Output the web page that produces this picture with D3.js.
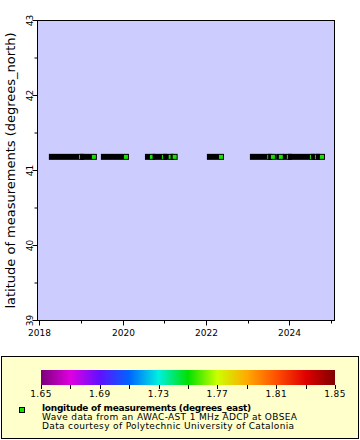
<!DOCTYPE html>
<html><head><meta charset="utf-8">
<script src="https://cdn.jsdelivr.net/npm/d3@7"></script>
<style>body{margin:0;background:#fff}svg{display:block;font-family:"DejaVu Sans",sans-serif}</style>
</head><body><svg id="c" width="360" height="440"></svg>
<script>
// Data: continuous measurement runs (start / end dates), station position
const runStart = ["2018-04-21","2019-01-19","2019-07-21","2020-08-10","2020-10-16","2021-01-15","2021-03-23","2022-02-04","2023-02-16","2023-07-26","2023-10-04","2023-12-02","2024-01-15","2024-08-04","2024-09-16"];
const runEnd   = ["2019-01-01","2019-04-24","2020-01-30","2020-09-14","2020-12-28","2021-02-25","2021-04-01","2022-05-12","2023-07-09","2023-08-10","2023-10-19","2023-12-28","2024-07-17","2024-08-30","2024-10-13"];
const latitude = 41.182;
const longitude = 1.752;
const xTickYears = [2018, 2020, 2022, 2024];
const xMinorYears = [2019, 2021, 2023, 2025];
const yTicks = [39, 40, 41, 42, 43];
const cbTicks = [1.65, 1.69, 1.73, 1.77, 1.81, 1.85];
const cbStops = ["#7a007a","#e000e0","#6010ff","#0064ff","#00f0e0","#00e000","#ccff00","#ffaa00","#ff5000","#e00000","#800000"];
const yTitle = "latitude of measurements (degrees_north)";
const legendLines = ["longitude of measurements (degrees_east)","Wave data from an AWAC-AST 1 MHz ADCP at OBSEA","Data courtesy of Polytechnic University of Catalonia"];

const svg = d3.select("#c");
const L = 37.5, R = 334.5, T = 20.5, B = 320.5;
const parse = d3.utcParse("%Y-%m-%d");
const x = d3.scaleUtc().domain([Date.UTC(2017,11,16), Date.UTC(2025,0,31)]).range([L, R]);
const y = d3.scaleLinear().domain([39, 43]).range([B, T]);
const cDomain = d3.range(cbStops.length).map(i => 1.65 + i * 0.02);
const color = d3.scaleLinear().domain(cDomain).range(cbStops).interpolate(d3.interpolateRgb);

// plot background
svg.append("rect").attr("x", L).attr("y", T).attr("width", R - L).attr("height", B - T).attr("fill", "#ccccff");

// data runs
const g = svg.append("g");
const yc = y(latitude);
const mcol = color(longitude);
runStart.forEach((s, i) => {
  const x0 = x(parse(s)), x1 = x(parse(runEnd[i]));
  g.append("rect").attr("x", x0 - 3).attr("y", yc - 3).attr("width", x1 - x0 + 6).attr("height", 6).attr("fill", "#000");
  g.append("rect").attr("x", x1 - 2).attr("y", yc - 2).attr("width", 4).attr("height", 4).attr("fill", mcol);
});

// frame
svg.append("rect").attr("x", L).attr("y", T).attr("width", R - L).attr("height", B - T).attr("fill", "none").attr("stroke", "#000").attr("stroke-width", 1);

// x axis ticks
const ax = svg.append("g").attr("font-size", 9).attr("fill", "#000");
xTickYears.forEach(yr => {
  const px = Math.round(x(Date.UTC(yr, 0, 1))) + 0.5;
  ax.append("line").attr("x1", px).attr("x2", px).attr("y1", B).attr("y2", B + 5).attr("stroke", "#000");
  ax.append("text").attr("x", px).attr("y", 336).attr("text-anchor", "middle").text(yr);
});
xMinorYears.forEach(yr => {
  const px = Math.round(x(Date.UTC(yr, 0, 1))) + 0.5;
  ax.append("line").attr("x1", px).attr("x2", px).attr("y1", B).attr("y2", B + 3).attr("stroke", "#000");
});
// y axis ticks
yTicks.forEach(v => {
  const py = y(v);
  ax.append("line").attr("x1", L - 5).attr("x2", L).attr("y1", py).attr("y2", py).attr("stroke", "#000");
  ax.append("text").attr("transform", `translate(33,${py}) rotate(-90)`).attr("text-anchor", "middle").text(v);
});
d3.range(39.5, 43, 1).forEach(v => {
  const py = y(v);
  ax.append("line").attr("x1", L - 3).attr("x2", L).attr("y1", py).attr("y2", py).attr("stroke", "#000");
});
svg.append("text").attr("transform", `translate(15,${(T + B) / 2}) rotate(-90)`).attr("text-anchor", "middle")
  .attr("font-size", 13).attr("fill", "#000").text(yTitle);

// legend
svg.append("rect").attr("x", 1.5).attr("y", 356.5).attr("width", 357).attr("height", 82).attr("fill", "#ffffcc").attr("stroke", "#000");
const cx = d3.scaleLinear().domain([1.65, 1.85]).range([41, 335]);
const defs = svg.append("defs");
const grad = defs.append("linearGradient").attr("id", "cb").attr("x1", "0%").attr("x2", "100%");
cDomain.forEach((v, i) => grad.append("stop").attr("offset", ((v - 1.65) / 0.2 * 100) + "%").attr("stop-color", cbStops[i]));
svg.append("rect").attr("x", cx(1.65)).attr("y", 370).attr("width", cx(1.85) - cx(1.65)).attr("height", 15).attr("fill", "url(#cb)");
d3.range(0, 11).map(i => 1.65 + i * 0.02).forEach(v => {
  const px = Math.round(cx(v)) + 0.5;
  svg.append("line").attr("x1", px).attr("x2", px).attr("y1", 385).attr("y2", 389).attr("stroke", "#000");
});
cbTicks.forEach(v => {
  svg.append("text").attr("x", cx(v)).attr("y", 397).attr("text-anchor", "middle").attr("font-size", 9)
    .attr("letter-spacing", 0.4).text(v.toFixed(2));
});
svg.append("rect").attr("x", 19.5).attr("y", 407.5).attr("width", 5).attr("height", 5).attr("fill", mcol).attr("stroke", "#000");
const lb = [411, 420, 428.5];
legendLines.forEach((t, i) => {
  svg.append("text").attr("x", 42).attr("y", lb[i]).attr("font-size", 9)
    .attr("letter-spacing", i === 0 ? -0.25 : 0.35)
    .attr("font-weight", i === 0 ? "bold" : "normal").text(t);
});
</script></body></html>
